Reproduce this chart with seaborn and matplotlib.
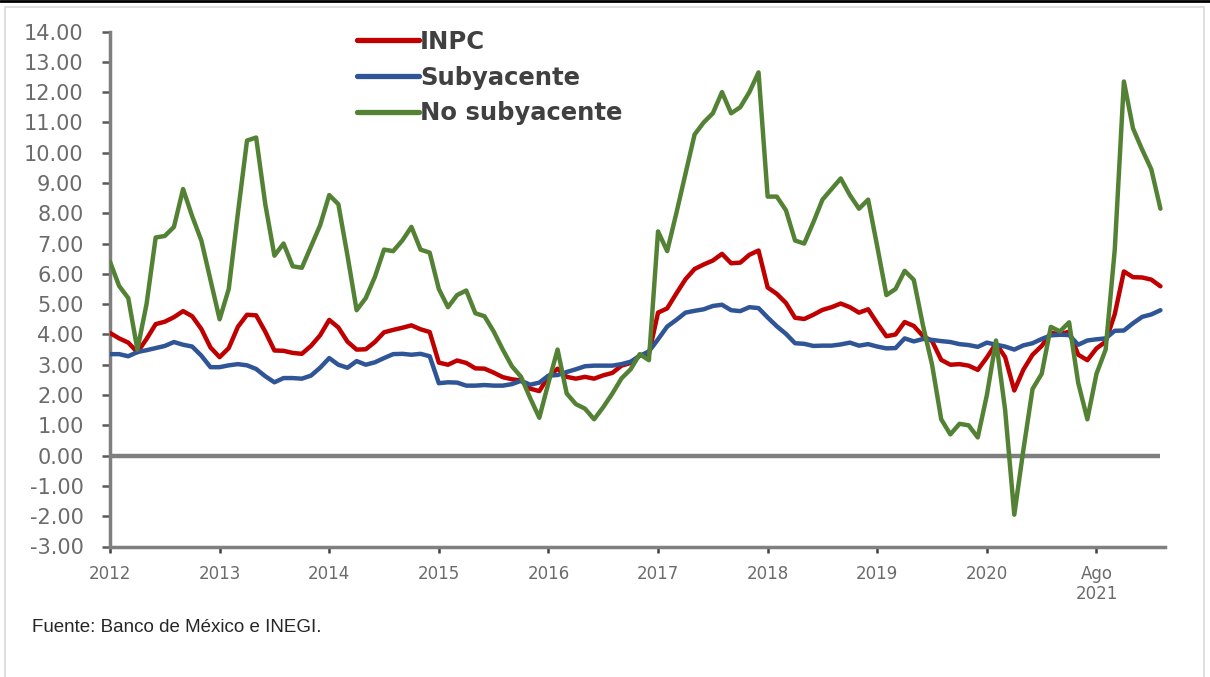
import numpy as np
import pandas as pd
import matplotlib

matplotlib.use("Agg")
import matplotlib.pyplot as plt
import matplotlib.patches as mpatches
import seaborn as sns

# Variacion anual (%) ene-2012 a ago-2021, mensual
meses = pd.date_range("2012-01-01", periods=116, freq="MS")

inpc = [
    4.05, 3.87, 3.73, 3.41, 3.85, 4.34, 4.42, 4.57, 4.77, 4.60, 4.18, 3.57,
    3.25, 3.55, 4.25, 4.65, 4.63, 4.09, 3.47, 3.46, 3.39, 3.36, 3.62, 3.97,
    4.48, 4.23, 3.76, 3.50, 3.51, 3.75, 4.07, 4.15, 4.22, 4.30, 4.17, 4.08,
    3.07, 3.00, 3.14, 3.06, 2.88, 2.87, 2.74, 2.59, 2.52, 2.48, 2.21, 2.13,
    2.61, 2.87, 2.60, 2.54, 2.60, 2.54, 2.65, 2.73, 2.97, 3.06, 3.31, 3.36,
    4.72, 4.86, 5.35, 5.82, 6.16, 6.31, 6.44, 6.66, 6.35, 6.37, 6.63, 6.77,
    5.55, 5.34, 5.04, 4.55, 4.51, 4.65, 4.81, 4.90, 5.02, 4.90, 4.72, 4.83,
    4.37, 3.94, 4.00, 4.41, 4.28, 3.95, 3.78, 3.16, 3.00, 3.02, 2.97, 2.83,
    3.24, 3.70, 3.25, 2.15, 2.84, 3.33, 3.62, 4.05, 4.01, 4.09, 3.33, 3.15,
    3.54, 3.76, 4.67, 6.08, 5.89, 5.88, 5.81, 5.59,
]

subyacente = [
    3.35, 3.35, 3.28, 3.42, 3.48, 3.55, 3.62, 3.75, 3.66, 3.60, 3.30, 2.92,
    2.92, 2.98, 3.02, 2.98, 2.86, 2.62, 2.42, 2.56, 2.56, 2.54, 2.64, 2.90,
    3.22, 3.00, 2.90, 3.12, 3.00, 3.08, 3.22, 3.35, 3.36, 3.33, 3.36, 3.28,
    2.39, 2.42, 2.41, 2.31, 2.31, 2.33, 2.31, 2.31, 2.36, 2.47, 2.34, 2.41,
    2.64, 2.66, 2.76, 2.85, 2.95, 2.97, 2.97, 2.97, 3.02, 3.10, 3.29, 3.44,
    3.84, 4.26, 4.48, 4.72, 4.78, 4.83, 4.94, 4.98, 4.80, 4.77, 4.90, 4.87,
    4.56, 4.27, 4.02, 3.71, 3.69, 3.62, 3.63, 3.63, 3.67, 3.73, 3.63, 3.68,
    3.60, 3.54, 3.55, 3.87, 3.77, 3.85, 3.82, 3.78, 3.75, 3.68, 3.65, 3.59,
    3.73, 3.66, 3.60, 3.50, 3.64, 3.71, 3.85, 3.97, 3.99, 3.98, 3.66, 3.80,
    3.84, 3.87, 4.12, 4.13, 4.37, 4.58, 4.66, 4.80,
]

no_subyacente = [
    6.40, 5.60, 5.20, 3.50, 5.00, 7.20, 7.25, 7.55, 8.80, 7.90, 7.10, 5.80,
    4.50, 5.50, 8.00, 10.40, 10.50, 8.30, 6.60, 7.00, 6.25, 6.20, 6.90, 7.60,
    8.60, 8.30, 6.60, 4.80, 5.20, 5.90, 6.80, 6.75, 7.10, 7.55, 6.80, 6.70,
    5.50, 4.90, 5.30, 5.45, 4.70, 4.60, 4.10, 3.50, 2.95, 2.60, 1.90, 1.25,
    2.40, 3.50, 2.05, 1.70, 1.55, 1.20, 1.60, 2.05, 2.55, 2.85, 3.35, 3.15,
    7.40, 6.75, 8.00, 9.30, 10.60, 11.00, 11.30, 12.00, 11.30, 11.50, 12.00, 12.65,
    8.55, 8.55, 8.10, 7.10, 7.00, 7.70, 8.45, 8.80, 9.15, 8.60, 8.15, 8.45,
    6.90, 5.30, 5.50, 6.10, 5.80, 4.30, 3.00, 1.20, 0.70, 1.05, 1.00, 0.60,
    2.00, 3.80, 1.50, -1.95, 0.20, 2.20, 2.70, 4.25, 4.10, 4.40, 2.40, 1.20,
    2.70, 3.50, 6.80, 12.35, 10.80, 10.10, 9.45, 8.15,
]

series = ["INPC", "Subyacente", "No subyacente"]
colores = ["#C00000", "#2F5597", "#548235"]

tick_pos = [0, 12, 24, 36, 48, 60, 72, 84, 96, 108]
tick_labels = ["2012", "2013", "2014", "2015", "2016", "2017", "2018", "2019", "2020", "Ago\n2021"]

df = pd.DataFrame({"mes": meses, "INPC": inpc, "Subyacente": subyacente,
                   "No subyacente": no_subyacente})
df["pos"] = np.arange(len(df))
df_long = df.melt(id_vars=["mes", "pos"], value_vars=series,
                  var_name="serie", value_name="valor")

sns.set_style("white")
plt.rcParams["font.family"] = ["DejaVu Sans"]

W, H = 1210, 677
fig = plt.figure(figsize=(W / 100, H / 100), dpi=100)
ax = fig.add_axes([110 / W, 1 - 546.5 / H, (1165 - 110) / W, (546.5 - 31.5) / H])

# linea del cero
ax.hlines(0, df["pos"].min(), df["pos"].max(), color="#7f7f7f", lw=3.2, zorder=1)

sns.lineplot(data=df_long, x="pos", y="valor", hue="serie", hue_order=series,
             palette=dict(zip(series, colores)), linewidth=3.2, errorbar=None,
             ax=ax, zorder=3)

ax.set_xlim(0, 115.5)
ax.set_ylim(-3, 14)
ax.set_yticks(np.arange(-3, 15, 1))
ax.yaxis.set_major_formatter(matplotlib.ticker.FuncFormatter(lambda v, p: f"{v:.2f}"))
ax.set_xticks(tick_pos)
ax.set_xticklabels(tick_labels)
ax.set_xlabel("")
ax.set_ylabel("")

for s in ["top", "right"]:
    ax.spines[s].set_visible(False)
for s in ["left", "bottom"]:
    ax.spines[s].set_color("#7f7f7f")
    ax.spines[s].set_linewidth(2.5)

ax.tick_params(axis="y", direction="out", length=6, width=1.8, color="#595959",
               pad=13, labelsize=15, labelcolor="#6b6b6b", left=True)
ax.tick_params(axis="x", direction="out", length=4, width=1.8, color="#404040",
               pad=9, labelsize=12, labelcolor="#6b6b6b", bottom=True)

h, l = ax.get_legend_handles_labels()
leg = ax.legend(h, l, loc="upper left", bbox_to_anchor=(357 / W, 1 - 30 / H),
                bbox_transform=fig.transFigure, frameon=False,
                prop={"weight": "bold", "size": 17.5}, handlelength=2.55,
                handletextpad=0.05, labelspacing=0.48, borderpad=0, borderaxespad=0)
for line in leg.get_lines():
    line.set_linewidth(3.8)
for t in leg.get_texts():
    t.set_color("#404040")

fig.text(32 / W, 1 - 628 / H, "Fuente: Banco de México e INEGI.", ha="left", va="center",
         fontsize=13.5, family=["Liberation Sans", "DejaVu Sans"], color="#262626")

# marco de la captura
fig.add_artist(mpatches.Rectangle((5 / W, -0.01), (1204 - 5) / W, 1 - 7 / H + 0.01,
                                  fill=False, edgecolor="#d9d9d9", lw=1.2,
                                  transform=fig.transFigure))
fig.add_artist(matplotlib.lines.Line2D([0, 1], [1 - 1 / H, 1 - 1 / H], color="black",
                                       lw=2, transform=fig.transFigure))

fig.savefig("out.png", dpi=100)
